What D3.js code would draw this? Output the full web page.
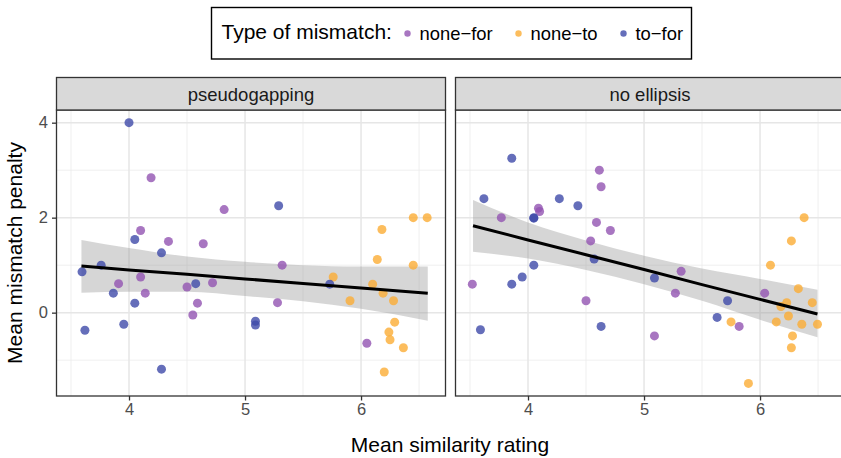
<!DOCTYPE html>
<html>
  <head>
    <meta charset="utf-8">
    <title>Mismatch penalty vs similarity</title>
    <script src="https://d3js.org/d3.v7.min.js"></script>
    <style>
      body { margin: 0; background: #fff; }
      text { font-family: "Liberation Sans", Helvetica, Arial, sans-serif; }
    </style>
  </head>
  <body>
    <script>

      // points per panel and mismatch type: [similarity, penalty]
      var pgNoneFor = [[4.19,2.84],[4.82,2.17],[4.10,1.73],[4.34,1.50],[4.64,1.45],[4.10,0.75],[3.91,0.61],
        [4.72,0.63],[4.50,0.54],[4.14,0.41],[4.59,0.20],[4.55,-0.05],[5.32,1.0],[5.28,0.21],[6.05,-0.645]];
      var pgNoneTo = [[6.45,2.0],[6.57,2.0],[6.18,1.75],[6.14,1.12],[6.45,1.0],[5.76,0.75],[6.10,0.60],
        [6.19,0.41],[5.905,0.25],[6.28,0.25],[6.29,-0.20],[6.24,-0.41],[6.25,-0.57],[6.365,-0.74],[6.20,-1.25]];
      var pgToFor = [[4.0,4.0],[4.05,1.54],[4.28,1.26],[3.76,1.0],[3.595,0.86],[4.575,0.61],[3.865,0.41],
        [4.05,0.20],[3.955,-0.245],[3.62,-0.37],[4.28,-1.19],[5.09,-0.18],[5.09,-0.26],[5.29,2.25],[5.73,0.60]];

      var neNoneFor = [[4.615,3.0],[4.63,2.65],[4.09,2.2],[4.10,2.13],[3.77,2.0],[4.59,1.90],[4.71,1.73],
        [4.54,1.51],[3.52,0.60],[4.50,0.25],[5.09,-0.49],[5.32,0.87],[5.27,0.41],[6.04,0.41],[5.82,-0.29]];
      var neNoneTo = [[6.38,2.0],[6.27,1.51],[6.09,1.0],[6.33,0.505],[6.23,0.21],[6.45,0.21],[6.18,0.13],
        [6.245,-0.07],[5.75,-0.195],[6.14,-0.195],[6.36,-0.245],[6.495,-0.245],[6.28,-0.49],[6.27,-0.74],[5.90,-1.49]];
      var neToFor = [[3.86,3.25],[3.62,2.40],[4.27,2.40],[4.43,2.25],[4.05,2.0],[4.05,1.99],[4.57,1.13],
        [4.05,1.0],[3.95,0.75],[3.86,0.60],[4.63,-0.29],[3.59,-0.36],[5.09,0.73],[5.72,0.25],[5.63,-0.10]];

      // fitted line and confidence band
      var pgFitX  = [3.59, 4.0, 4.5, 5.0, 5.5, 6.0, 6.575];
      var pgFit   = [0.98, 0.90, 0.81, 0.71, 0.615, 0.52, 0.41];
      var pgUpper = [1.53, 1.36, 1.18, 1.07, 1.0, 0.97, 0.97];
      var pgLower = [0.42, 0.44, 0.44, 0.35, 0.24, 0.08, -0.17];

      var neFitX  = [3.526, 4.0, 4.5, 5.0, 5.5, 6.0, 6.495];
      var neFit   = [1.83, 1.53, 1.22, 0.91, 0.59, 0.28, -0.03];
      var neUpper = [2.37, 1.90, 1.52, 1.20, 0.93, 0.71, 0.48];
      var neLower = [1.28, 1.14, 0.90, 0.60, 0.25, -0.15, -0.52];

      var panelNames = ["pseudogapping", "no ellipsis"];
      var typeNames = ["none\u2212for", "none\u2212to", "to\u2212for"];
      var typeColors = ["#9254b2", "#fbad35", "#3f4aa9"];
      var xTicks = [4, 5, 6];
      var xMinor = [3.5, 4.5, 5.5, 6.5];
      var yTicks = [0, 2, 4];
      var yMinor = [-1, 1, 3];

      var panels = [
        { name: panelNames[0], groups: [pgNoneFor, pgNoneTo, pgToFor],
          fitX: pgFitX, fit: pgFit, upper: pgUpper, lower: pgLower },
        { name: panelNames[1], groups: [neNoneFor, neNoneTo, neToFor],
          fitX: neFitX, fit: neFit, upper: neUpper, lower: neLower }
      ];

      var width = 841, height = 458;
      var panelW = 389, panelTop = 110, panelBottom = 396;
      var panelLefts = [56.5, 455.5];
      var stripTop = 77.5;

      var svg = d3.select("body").append("svg")
        .attr("width", width)
        .attr("height", height);

      var xScale = d3.scaleLinear().domain([3.375, 6.728]).range([0, panelW]);
      var yScale = d3.scaleLinear().domain([-1.755, 4.267]).range([panelBottom - panelTop, 0]);
      var fmt = d3.format("d");

      panels.forEach(function (p, i) {
        var g = svg.append("g")
          .attr("transform", "translate(" + panelLefts[i] + "," + panelTop + ")");
        var ph = panelBottom - panelTop;

        // minor grid
        g.selectAll(".xminor").data(xMinor).enter().append("line")
          .attr("x1", d => xScale(d)).attr("x2", d => xScale(d))
          .attr("y1", 0).attr("y2", ph)
          .attr("stroke", "#ebebeb").attr("stroke-width", 0.8);
        g.selectAll(".yminor").data(yMinor).enter().append("line")
          .attr("y1", d => yScale(d)).attr("y2", d => yScale(d))
          .attr("x1", 0).attr("x2", panelW)
          .attr("stroke", "#ebebeb").attr("stroke-width", 0.8);
        // major grid
        g.selectAll(".xmajor").data(xTicks).enter().append("line")
          .attr("x1", d => xScale(d)).attr("x2", d => xScale(d))
          .attr("y1", 0).attr("y2", ph)
          .attr("stroke", "#e6e6e6").attr("stroke-width", 1.5);
        g.selectAll(".ymajor").data(yTicks).enter().append("line")
          .attr("y1", d => yScale(d)).attr("y2", d => yScale(d))
          .attr("x1", 0).attr("x2", panelW)
          .attr("stroke", "#e6e6e6").attr("stroke-width", 1.5);

        // confidence band
        var band = p.fitX.map(function (x, k) { return [x, p.lower[k], p.upper[k]]; });
        g.append("path")
          .datum(band)
          .attr("fill", "#999999")
          .attr("fill-opacity", 0.4)
          .attr("d", d3.area()
            .curve(d3.curveMonotoneX)
            .x(d => xScale(d[0]))
            .y0(d => yScale(d[1]))
            .y1(d => yScale(d[2])));

        // points
        p.groups.forEach(function (pts, t) {
          g.selectAll(".pt" + t).data(pts).enter().append("circle")
            .attr("cx", d => xScale(d[0]))
            .attr("cy", d => yScale(d[1]))
            .attr("r", 4.5)
            .attr("fill", typeColors[t])
            .attr("fill-opacity", 0.8);
        });

        // fitted line
        g.append("path")
          .datum(p.fitX.map(function (x, k) { return [x, p.fit[k]]; }))
          .attr("fill", "none")
          .attr("stroke", "#000")
          .attr("stroke-width", 3)
          .attr("d", d3.line().x(d => xScale(d[0])).y(d => yScale(d[1])));

        // panel border
        g.append("rect")
          .attr("x", 0).attr("y", 0)
          .attr("width", panelW).attr("height", ph)
          .attr("fill", "none").attr("stroke", "#333").attr("stroke-width", 1.3);

        // strip
        svg.append("rect")
          .attr("x", panelLefts[i]).attr("y", stripTop)
          .attr("width", panelW).attr("height", panelTop - stripTop)
          .attr("fill", "#d9d9d9").attr("stroke", "#333").attr("stroke-width", 1.3);
        svg.append("text")
          .attr("x", panelLefts[i] + panelW / 2)
          .attr("y", 101)
          .attr("text-anchor", "middle")
          .attr("font-size", 18.5)
          .attr("fill", "#1a1a1a")
          .text(p.name);

        // x axis
        var xAxis = g.append("g")
          .attr("transform", "translate(0," + ph + ")")
          .call(d3.axisBottom(xScale).tickValues(xTicks).tickFormat(fmt).tickSize(4.5).tickPadding(3));
        xAxis.select(".domain").remove();
        xAxis.selectAll("line").attr("stroke", "#333").attr("stroke-width", 1.3);
        xAxis.selectAll("text")
          .attr("font-size", 16.5).attr("fill", "#4d4d4d")
          .style("font-family", "'Liberation Sans', Helvetica, Arial, sans-serif");

        if (i === 0) {
          var yAxis = g.append("g")
            .call(d3.axisLeft(yScale).tickValues(yTicks).tickFormat(fmt).tickSize(4.5).tickPadding(4));
          yAxis.select(".domain").remove();
          yAxis.selectAll("line").attr("stroke", "#333").attr("stroke-width", 1.3);
          yAxis.selectAll("text")
            .attr("font-size", 16.5).attr("fill", "#4d4d4d")
            .style("font-family", "'Liberation Sans', Helvetica, Arial, sans-serif");
        }
      });

      // axis titles
      svg.append("text")
        .attr("x", 450).attr("y", 451.5)
        .attr("text-anchor", "middle")
        .attr("font-size", 21)
        .text("Mean similarity rating");
      svg.append("text")
        .attr("transform", "translate(22," + (panelTop + panelBottom) / 2 + ") rotate(-90)")
        .attr("text-anchor", "middle")
        .attr("font-size", 21)
        .text("Mean mismatch penalty");

      // legend
      var legend = svg.append("g");
      legend.append("rect")
        .attr("x", 211.5).attr("y", 7.5)
        .attr("width", 480).attr("height", 51.5)
        .attr("fill", "#fff").attr("stroke", "#000").attr("stroke-width", 1.4);
      legend.append("text")
        .attr("x", 221.5).attr("y", 39)
        .attr("font-size", 21)
        .text("Type of mismatch:");
      var keyX = [407.5, 518.5, 623.5];
      typeNames.forEach(function (name, t) {
        legend.append("circle")
          .attr("cx", keyX[t]).attr("cy", 33.5).attr("r", 3.2)
          .attr("fill", typeColors[t]).attr("fill-opacity", 0.8);
        legend.append("text")
          .attr("x", keyX[t] + 12).attr("y", 39.5)
          .attr("font-size", 18.4)
          .text(name);
      });

    </script>
  </body>
</html>
